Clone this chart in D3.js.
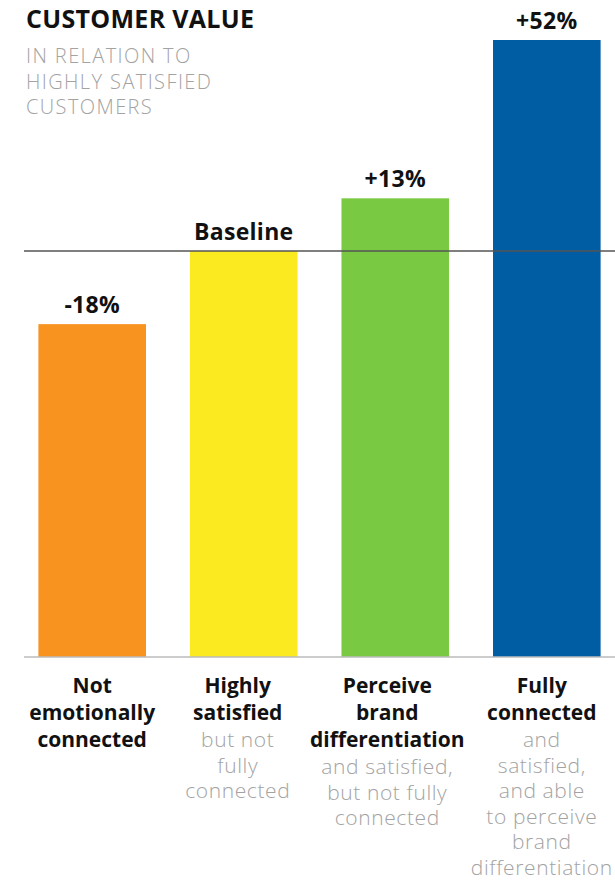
<!DOCTYPE html>
<html>
<head>
<meta charset="utf-8">
<script src="https://cdn.jsdelivr.net/npm/d3@7"></script>
<style>
  body { margin: 0; background: #fff; }
  text { font-family: "Open Sans", Roboto, sans-serif; }
</style>
</head>
<body>
<div id="chart"></div>
<script>
// customer value indexed to highly satisfied customers (= 100)
const categories = ['not', 'satisfied', 'differentiation', 'connected'];
const values = [82, 100, 113, 152];
const valueLabels = ['-18%', 'Baseline', '+13%', '+52%'];
const boldLines = [
  ['Not', 'emotionally', 'connected'],
  ['Highly', 'satisfied'],
  ['Perceive', 'brand', 'differentiation'],
  ['Fully', 'connected']
];
const grayLines = [
  [],
  ['but not', 'fully', 'connected'],
  ['and satisfied,', 'but not fully', 'connected'],
  ['and', 'satisfied,', 'and able', 'to perceive', 'brand', 'differentiation']
];
const subtitleLines = ['IN RELATION TO', 'HIGHLY SATISFIED', 'CUSTOMERS'];
const colors = ['#F7931E', '#FCEA21', '#7AC943', '#005CA3'];
const baselineValue = 100;

const width = 615;
const height = 880;
// category labels sit a little left of their bar centres in the original
const labelNudge = [0, -6, -8, -5];

const svg = d3.select('#chart').append('svg')
  .attr('width', width)
  .attr('height', height);

const xScale = d3.scaleBand()
  .domain(categories)
  .range([24, 615])
  .paddingInner(0.29)
  .paddingOuter(0.095);

const yScale = d3.scaleLinear()
  .domain([0, 152])
  .range([657, 40]);

// title
svg.append('text')
  .attr('x', 26)
  .attr('y', 28)
  .attr('font-size', 25)
  .attr('font-weight', 700)
  .attr('letter-spacing', 0.3)
  .attr('fill', '#111')
  .text('CUSTOMER VALUE');

const subtitle = svg.append('text')
  .attr('font-size', 20)
  .attr('font-weight', 300)
  .attr('letter-spacing', 1.4)
  .attr('fill', '#a3a3a3');
subtitleLines.forEach((t, i) => {
  subtitle.append('tspan')
    .attr('x', 26)
    .attr('y', 63 + i * 25.5)
    .text(t);
});

// bars
svg.selectAll('rect.bar')
  .data(values)
  .enter()
  .append('rect')
  .attr('class', 'bar')
  .attr('x', (d, i) => xScale(categories[i]))
  .attr('y', d => yScale(d))
  .attr('width', xScale.bandwidth())
  .attr('height', d => yScale(0) - yScale(d))
  .attr('fill', (d, i) => colors[i]);

// bottom axis line
svg.append('g')
  .attr('transform', `translate(0, ${yScale(0)})`)
  .call(d3.axisBottom(xScale).tickSize(0).tickFormat(''))
  .call(g => g.select('.domain').attr('stroke', '#bbb').attr('stroke-width', 1.5)
    .attr('d', `M24,0H615`));

// baseline reference line
svg.append('line')
  .attr('x1', 24)
  .attr('x2', 615)
  .attr('y1', yScale(baselineValue))
  .attr('y2', yScale(baselineValue))
  .attr('stroke', '#555')
  .attr('stroke-width', 1.5);

// value labels
svg.selectAll('text.value')
  .data(values)
  .enter()
  .append('text')
  .attr('class', 'value')
  .attr('x', (d, i) => xScale(categories[i]) + xScale.bandwidth() / 2)
  .attr('y', d => yScale(d) - 11)
  .attr('text-anchor', 'middle')
  .attr('font-size', 23)
  .attr('font-weight', 700)
  .attr('letter-spacing', 0.3)
  .attr('fill', '#111')
  .text((d, i) => valueLabels[i]);

// category labels
categories.forEach((c, i) => {
  const cx = xScale(c) + xScale.bandwidth() / 2 + labelNudge[i];
  const t = svg.append('text')
    .attr('text-anchor', 'middle')
    .attr('font-size', 21);
  boldLines[i].forEach((line, j) => {
    t.append('tspan')
      .attr('x', cx)
      .attr('y', 693 + j * 27)
      .attr('font-weight', 700)
      .attr('fill', '#111')
      .text(line);
  });
  const start = 693 + (boldLines[i].length - 1) * 27 + 27;
  grayLines[i].forEach((line, j) => {
    t.append('tspan')
      .attr('x', cx)
      .attr('y', start + j * 25.5)
      .attr('font-size', 21)
      .attr('font-weight', 300)
      .attr('letter-spacing', 0.6)
      .attr('fill', '#a3a3a3')
      .text(line);
  });
});
</script>
</body>
</html>
